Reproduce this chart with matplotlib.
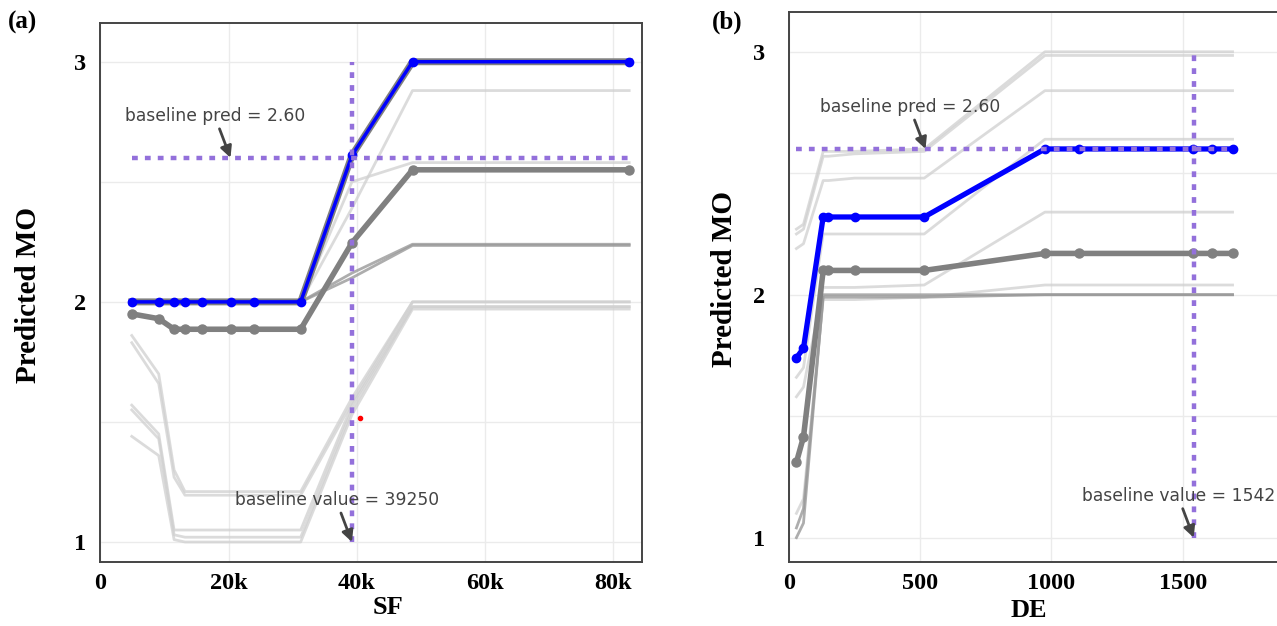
import matplotlib
matplotlib.use("Agg")
import matplotlib.pyplot as plt

# ---- panel (a): SF ----
sf_grid = [4900, 9100, 11500, 13200, 15800, 20400, 23900, 31250, 39250, 48700, 82500]
sf_blue = [2.0, 2.0, 2.0, 2.0, 2.0, 2.0, 2.0, 2.0, 2.61, 3.0, 3.0]
sf_dark = [1.95, 1.93, 1.886, 1.886, 1.886, 1.886, 1.886, 1.886, 2.246, 2.55, 2.55]
sf_medium = [
    [2.0, 2.0, 2.0, 2.0, 2.0, 2.0, 2.0, 2.0, 2.12, 2.24, 2.24],
    [2.0, 2.0, 2.0, 2.0, 2.0, 2.0, 2.0, 2.0, 2.10, 2.235, 2.235],
]
sf_light = [
    [2.0, 2.0, 2.0, 2.0, 2.0, 2.0, 2.0, 2.0, 2.39, 2.88, 2.88],
    [2.0, 2.0, 2.0, 2.0, 2.0, 2.0, 2.0, 2.0, 2.50, 2.58, 2.58],
    [1.86, 1.70, 1.30, 1.21, 1.21, 1.21, 1.21, 1.21, 1.60, 2.00, 2.00],
    [1.83, 1.66, 1.27, 1.195, 1.195, 1.195, 1.195, 1.195, 1.58, 2.00, 2.00],
    [1.57, 1.45, 1.05, 1.05, 1.05, 1.05, 1.05, 1.05, 1.57, 1.98, 1.98],
    [1.55, 1.43, 1.03, 1.02, 1.02, 1.02, 1.02, 1.02, 1.55, 1.98, 1.98],
    [1.44, 1.36, 1.01, 1.0, 1.0, 1.0, 1.0, 1.0, 1.53, 1.97, 1.97],
]
sf_baseline_value = 39250
sf_red_point = (40550, 1.515)
sf_xticks = [0, 20000, 40000, 60000, 80000]
sf_xticklabels = ["0", "20k", "40k", "60k", "80k"]

# ---- panel (b): DE ----
de_grid = [28, 55, 130, 150, 250, 515, 975, 1105, 1540, 1610, 1690]
de_blue = [1.74, 1.78, 2.32, 2.32, 2.32, 2.32, 2.60, 2.60, 2.60, 2.60, 2.60]
de_dark = [1.31, 1.415, 2.10, 2.10, 2.10, 2.10, 2.17, 2.17, 2.17, 2.17, 2.17]
de_medium = [
    [1.0, 1.06, 2.0, 2.0, 2.0, 2.0, 2.0, 2.0, 2.0, 2.0, 2.0],
    [1.04, 1.12, 1.99, 1.99, 1.99, 1.99, 2.0, 2.0, 2.0, 2.0, 2.0],
]
de_light = [
    [2.27, 2.29, 2.59, 2.59, 2.59, 2.60, 3.00, 3.00, 3.00, 3.00, 3.00],
    [2.25, 2.27, 2.57, 2.57, 2.58, 2.59, 2.985, 2.985, 2.985, 2.985, 2.985],
    [2.19, 2.21, 2.47, 2.47, 2.48, 2.48, 2.84, 2.84, 2.84, 2.84, 2.84],
    [1.66, 1.70, 2.25, 2.25, 2.25, 2.25, 2.64, 2.64, 2.64, 2.64, 2.64],
    [1.58, 1.62, 2.03, 2.03, 2.03, 2.04, 2.34, 2.34, 2.34, 2.34, 2.34],
    [1.10, 1.16, 1.98, 1.98, 1.98, 1.99, 2.04, 2.04, 2.04, 2.04, 2.04],
]
de_baseline_value = 1542
de_xticks = [0, 500, 1000, 1500]
de_xticklabels = ["0", "500", "1000", "1500"]

baseline_pred = 2.60

PURPLE = "#9370db"
SERIF = "Liberation Serif"

fig = plt.figure(figsize=(12.77, 6.26), dpi=100)
ax_a = fig.add_axes([0.0786, 0.1027, 0.4245, 0.861])
ax_b = fig.add_axes([0.6179, 0.1027, 0.3923, 0.8786])


def draw_panel(ax, grid, blue, dark, medium, light, base_x, xticks, xticklabels,
               xlim, ylim, blue_lw, outline_blue):
    for ys in light:
        ax.plot(grid, ys, color="#d0d0d0", lw=2, alpha=0.75, zorder=2)
    for ys in medium:
        ax.plot(grid, ys, color="#999999", lw=2, alpha=0.8, zorder=3)
    ax.plot(grid, dark, color="#808080", lw=4, marker="o", ms=6.5, zorder=4)
    if outline_blue:
        ax.plot(grid, blue, color="#808080", lw=5, zorder=5)
    ax.plot(grid, blue, color="#0000ff", lw=blue_lw, marker="o", ms=6, zorder=6)

    # baseline dotted lines
    ax.plot([grid[0], grid[-1]], [baseline_pred, baseline_pred], color=PURPLE,
            lw=3.2, dashes=(1.3, 1.6), dash_capstyle="butt", zorder=7)
    ax.plot([base_x, base_x], [1.0, 3.0], color=PURPLE,
            lw=3.2, dashes=(1.3, 1.6), dash_capstyle="butt", zorder=7)

    ax.set_xlim(*xlim)
    ax.set_ylim(*ylim)
    ax.set_xticks(xticks)
    ax.set_xticklabels(xticklabels)
    ax.set_yticks([1, 2, 3])
    ax.set_yticks([1.5, 2.5], minor=True)
    ax.grid(True, which="both", color="#ebebeb", lw=1, zorder=0)
    ax.set_axisbelow(True)
    ax.tick_params(which="both", length=0)
    for lab in ax.get_xticklabels() + ax.get_yticklabels():
        lab.set_fontfamily(SERIF)
        lab.set_fontweight("bold")
        lab.set_fontsize(17.5)
    for sp in ax.spines.values():
        sp.set_color("#444444")
        sp.set_linewidth(1.4)


def note(ax, text, tip):
    ax.annotate("", xy=tip, xytext=(-11, 29), textcoords="offset pixels",
                arrowprops=dict(arrowstyle="-|>", color="#444444", lw=2,
                                mutation_scale=17, shrinkA=0, shrinkB=0),
                zorder=9)
    ax.annotate(text, xy=tip, xytext=(-15, 42), textcoords="offset pixels",
                ha="center", va="center", fontsize=12.3, color="#444444",
                family="DejaVu Sans", zorder=9)


draw_panel(ax_a, sf_grid, sf_blue, sf_dark, sf_medium, sf_light, sf_baseline_value,
           sf_xticks, sf_xticklabels, (0, 84570), (0.918, 3.1625), 2.5, True)
ax_a.plot(*sf_red_point, "o", color="red", ms=3, zorder=8)
note(ax_a, "baseline pred = 2.60", (20300, baseline_pred))
note(ax_a, "baseline value = 39250", (sf_baseline_value, 1.0))
ax_a.tick_params(axis="y", pad=10)
ax_a.tick_params(axis="x", pad=8)
ax_a.set_xlabel("SF", fontfamily=SERIF, fontweight="bold", fontsize=19)
ax_a.set_ylabel("Predicted MO", fontfamily=SERIF, fontweight="bold", fontsize=21)
ax_a.xaxis.set_label_coords(0.53, -0.064)
ax_a.yaxis.set_label_coords(-0.108, 0.495)

draw_panel(ax_b, de_grid, de_blue, de_dark, de_medium, de_light, de_baseline_value,
           de_xticks, de_xticklabels, (0, 1909), (0.901, 3.165), 3.8, False)
note(ax_b, "baseline pred = 2.60", (520, baseline_pred))
note(ax_b, "baseline value = 1542", (de_baseline_value, 1.0))
ax_b.tick_params(axis="y", pad=17)
ax_b.tick_params(axis="x", pad=8)
ax_b.set_xlabel("DE", fontfamily=SERIF, fontweight="bold", fontsize=19)
ax_b.set_ylabel("Predicted MO", fontfamily=SERIF, fontweight="bold", fontsize=21)
ax_b.xaxis.set_label_coords(0.478, -0.068)
ax_b.yaxis.set_label_coords(-0.102, 0.514)

fig.text(8 / 1277, 1 - 22 / 626, "(a)", fontfamily=SERIF, fontweight="bold",
         fontsize=18, ha="left", va="center")
fig.text(712 / 1277, 1 - 22 / 626, "(b)", fontfamily=SERIF, fontweight="bold",
         fontsize=18, ha="left", va="center")

fig.savefig("out.png", dpi=100)
